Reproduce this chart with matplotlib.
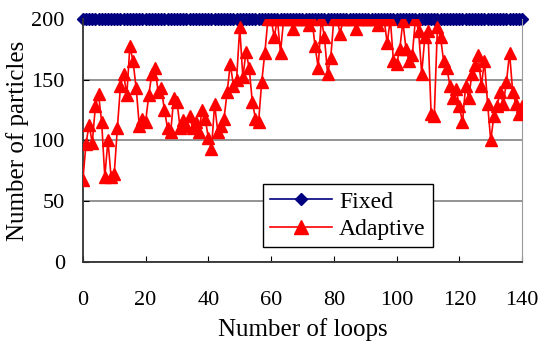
import matplotlib
matplotlib.use("Agg")
import matplotlib.pyplot as plt

loops = list(range(141))
fixed = [200] * 141
adaptive = [
    67, 97, 113, 98, 128, 138, 115, 70, 100, 70,
    72, 110, 145, 155, 137, 178, 165, 143, 112, 118,
    115, 137, 155, 160, 140, 143, 125, 110, 107, 135,
    132, 110, 117, 112, 120, 110, 115, 107, 125, 118,
    102, 93, 130, 107, 112, 118, 140, 163, 145, 150,
    193, 152, 173, 160, 132, 118, 115, 148, 172, 200,
    200, 185, 200, 172, 200, 200, 200, 192, 200, 200,
    200, 200, 195, 200, 178, 160, 200, 185, 155, 168,
    200, 200, 188, 200, 200, 200, 200, 192, 200, 200,
    200, 200, 200, 200, 195, 200, 200, 180, 200, 165,
    163, 175, 198, 175, 165, 170, 200, 190, 155, 185,
    190, 122, 120, 193, 185, 165, 160, 145, 135, 142,
    128, 115, 145, 135, 155, 162, 170, 145, 165, 130,
    100, 120, 128, 140, 130, 148, 172, 140, 130, 122,
    128,
]

plt.rcParams["font.family"] = ["Liberation Serif", "DejaVu Serif"]

fig = plt.figure(figsize=(5.45, 3.51), dpi=100)
ax = fig.add_axes([0.152, 0.254, 0.806, 0.692])

ax.plot(loops, adaptive, color="#ff0000", marker="^", markersize=9,
        linewidth=1.2, label="Adaptive", zorder=3)
ax.plot(loops, fixed, color="#000080", marker="D", markersize=6,
        linewidth=1.2, label="Fixed", zorder=2, clip_on=False)

ax.set_xlim(0, 140)
ax.set_ylim(0, 200)
ax.set_xticks(range(0, 141, 20))
ax.set_yticks(range(0, 201, 50))
ax.tick_params(direction="in", labelsize=16, length=4)
ax.tick_params(axis="x", pad=21)
ax.tick_params(axis="y", pad=13)
ax.yaxis.grid(True, color="#808080", linewidth=1.2)
ax.set_axisbelow(True)

for s in ("left", "bottom"):
    ax.spines[s].set_color("#333333")
    ax.spines[s].set_linewidth(1.3)
ax.spines["right"].set_color("#999999")
ax.spines["top"].set_visible(False)

ax.set_xlabel("Number of loops", fontsize=18, labelpad=6)
ax.set_ylabel("Number of particles", fontsize=18, labelpad=2)

h, l = ax.get_legend_handles_labels()
leg = ax.legend(h[::-1], l[::-1], loc="lower left", bbox_to_anchor=(0.411, 0.06),
                fontsize=17, frameon=True, fancybox=False, edgecolor="black",
                framealpha=1, borderpad=0.3, handlelength=2.6, labelspacing=0.25,
                handletextpad=0.3, borderaxespad=0, markerscale=1.1)
leg.get_frame().set_linewidth(1.0)

fig.savefig("out.png", dpi=100)
